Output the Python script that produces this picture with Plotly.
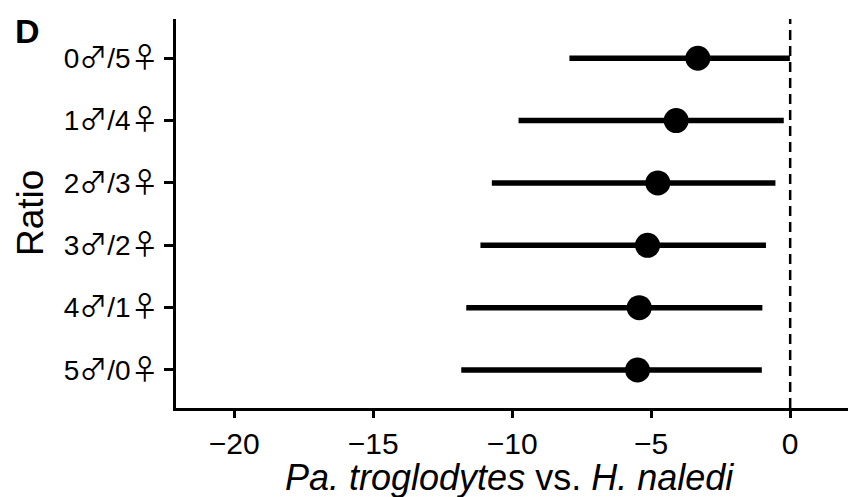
import plotly.graph_objects as go

ratios = ["5♂/0♀", "4♂/1♀", "3♂/2♀", "2♂/3♀", "1♂/4♀", "0♂/5♀"]
means = [-5.49, -5.43, -5.13, -4.76, -4.10, -3.32]
lower = [-11.83, -11.65, -11.14, -10.73, -9.77, -7.94]
upper = [-1.02, -1.00, -0.87, -0.53, -0.23, -0.01]
x_ticks = [-20, -15, -10, -5, 0]
x_tick_labels = ["−20", "−15", "−10", "−5", "0"]

ypos = list(range(len(ratios)))
err_plus = [u - m for u, m in zip(upper, means)]
err_minus = [m - l for m, l in zip(means, lower)]

FONT = "Liberation Sans, Arial, DejaVu Sans, sans-serif"
SYM = "Noto Sans CJK JP"


def styled(label):
    out = ""
    for ch in label:
        if ch in "♂♀":
            out += "<span style='font-family:\"%s\"'>%s</span>" % (SYM, ch)
        else:
            out += ch
    return out


fig = go.Figure()
fig.add_trace(go.Scatter(
    x=means, y=ypos, mode="markers",
    marker=dict(color="black", size=25, line=dict(width=0)),
    error_x=dict(type="data", symmetric=False, array=err_plus, arrayminus=err_minus,
                 color="black", thickness=5.5, width=0),
    showlegend=False, hoverinfo="skip",
))

fig.add_shape(type="line", xref="x", yref="paper", x0=0, x1=0, y0=0, y1=1.0,
              line=dict(color="black", width=2.5, dash="10px,6px"), layer="below")

fig.update_layout(
    width=851, height=497,
    margin=dict(l=176, r=3, t=19, b=89),
    paper_bgcolor="white", plot_bgcolor="white",
    font=dict(family=FONT, color="black"),
    xaxis=dict(range=[-22.09, 2.08], tickvals=x_ticks, ticktext=x_tick_labels,
               showgrid=False, zeroline=False, showline=True, linecolor="black", linewidth=2.5,
               ticks="outside", ticklen=7, tickwidth=2.5, tickcolor="black",
               tickfont=dict(size=30, family=FONT, color="black")),
    yaxis=dict(range=[-0.61, 5.63], tickvals=ypos, ticktext=[styled(r) for r in ratios],
               showgrid=False, zeroline=False, showline=True, linecolor="black", linewidth=2.5,
               ticks="outside", ticklen=9, tickwidth=2.5, tickcolor="black",
               tickfont=dict(size=28, family=FONT, color="black")),
    annotations=[
        dict(text="<b>D</b>", xref="paper", yref="paper", x=(13 - 176) / 672, y=(408 - 31) / 389,
             xanchor="left", yanchor="middle", showarrow=False, font=dict(size=34, family=FONT)),
        dict(text="Ratio", xref="paper", yref="paper", x=(30.5 - 176) / 672, y=0.5,
             xanchor="center", yanchor="middle", textangle=-90, showarrow=False,
             font=dict(size=37, family=FONT)),
        dict(text="<i>Pa. troglodytes</i> vs. <i>H. naledi</i>", xref="paper", yref="paper",
             x=(509.5 - 176) / 672, y=(408 - 477) / 389, xanchor="center", yanchor="middle",
             showarrow=False, font=dict(size=36, family=FONT)),
    ],
)

fig.write_html("out.html")
